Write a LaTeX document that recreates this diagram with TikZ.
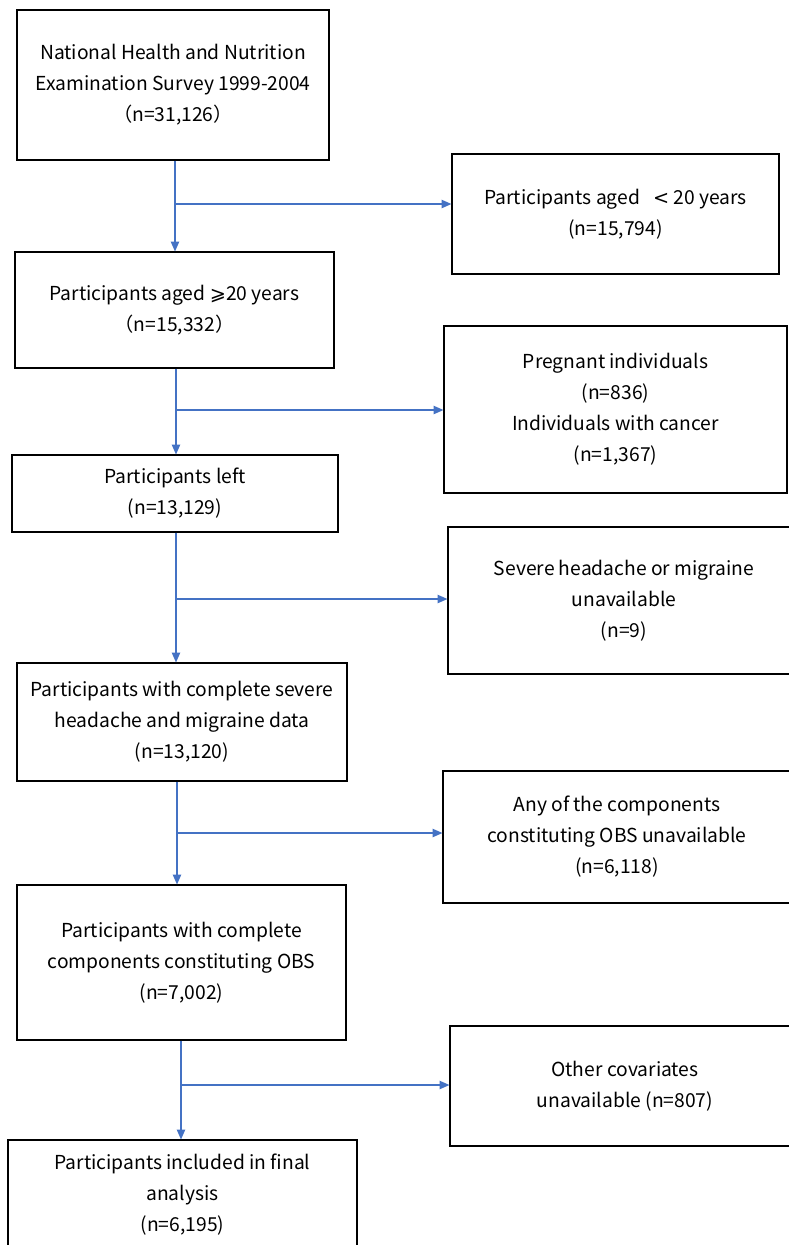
\documentclass[tikz,border=0pt]{standalone}
\usepackage{fontspec}
\setmainfont{Noto Sans CJK SC}
\newfontfamily\symfont{DejaVu Sans}
\usetikzlibrary{arrows.meta}
\definecolor{flowblue}{HTML}{4472C4}
\tikzset{
	box/.style={draw, thick, align=center, inner sep=2pt, font=\fontsize{13.7}{22}\selectfont},
	arr/.style={flowblue, thick, -{Triangle[length=7pt, width=6pt]}}
}

\begin{document}
\begin{tikzpicture}[x=0.025cm, y=-0.025cm]
		\useasboundingbox (0,0) rectangle (789,1245);
		% main column
		\node[box, minimum width=7.8cm, minimum height=3.75cm] (survey) at (173,85)
			{National Health and Nutrition\\Examination Survey 1999-2004\\（n=31,126）};
		\node[box, minimum width=7.975cm, minimum height=2.9cm] (adults) at (174.5,310)
			{Participants aged {\symfont ⩾}20 years\\（n=15,332）};
		\node[box, minimum width=8.15cm, minimum height=1.925cm] (remain) at (175,493.5)
			{Participants left\\(n=13,129)};
		\node[box, minimum width=8.25cm, minimum height=2.95cm] (headache) at (182,722)
			{Participants with complete severe\\headache and migraine data\\(n=13,120)};
		\node[box, minimum width=8.225cm, minimum height=3.875cm] (obs) at (181.5,962.5)
			{Participants with complete\\components constituting OBS\\(n=7,002)};
		\node[box, minimum width=8.725cm, minimum height=2.75cm] (final) at (182.5,1195)
			{Participants included in final\\analysis\\(n=6,195)};
		% exclusions
		\node[box, minimum width=8.175cm, minimum height=3cm] (young) at (615.5,214)
			{Participants aged \ \ {\symfont <} 20 years\\(n=15,794)};
		\node[box, minimum width=8.575cm, minimum height=4.175cm] (pregcancer) at (615.5,409.5)
			{Pregnant individuals\\(n=836)\\Individuals with cancer\\(n=1,367)};
		\node[box, minimum width=8.8cm, minimum height=3.675cm] (nohead) at (624,600.5)
			{Severe headache or migraine\\unavailable\\(n=9)};
		\node[box, minimum width=8.7cm, minimum height=3.3cm] (noobs) at (617,837)
			{Any of the components\\constituting OBS unavailable\\(n=6,118)};
		\node[box, minimum width=8.75cm, minimum height=3cm] (nocov) at (625,1086)
			{Other covariates\\unavailable (n=807)};
		% branch points
		\coordinate (j1) at (175,204);
		\coordinate (j2) at (176,410);
		\coordinate (j3) at (176,599);
		\coordinate (j4) at (177,833);
		\coordinate (j5) at (181,1085);
		\draw[arr] (j1 |- survey.south) -- (j1 |- adults.north);
		\draw[arr] (j1) -- (j1 -| young.west);
		\draw[arr] (j2 |- adults.south) -- (j2 |- remain.north);
		\draw[arr] (j2) -- (j2 -| pregcancer.west);
		\draw[arr] (j3 |- remain.south) -- (j3 |- headache.north);
		\draw[arr] (j3) -- (j3 -| nohead.west);
		\draw[arr] (j4 |- headache.south) -- (j4 |- obs.north);
		\draw[arr] (j4) -- (j4 -| noobs.west);
		\draw[arr] (j5 |- obs.south) -- (j5 |- final.north);
		\draw[arr] (j5) -- (j5 -| nocov.west);
	\end{tikzpicture}
\end{document}
